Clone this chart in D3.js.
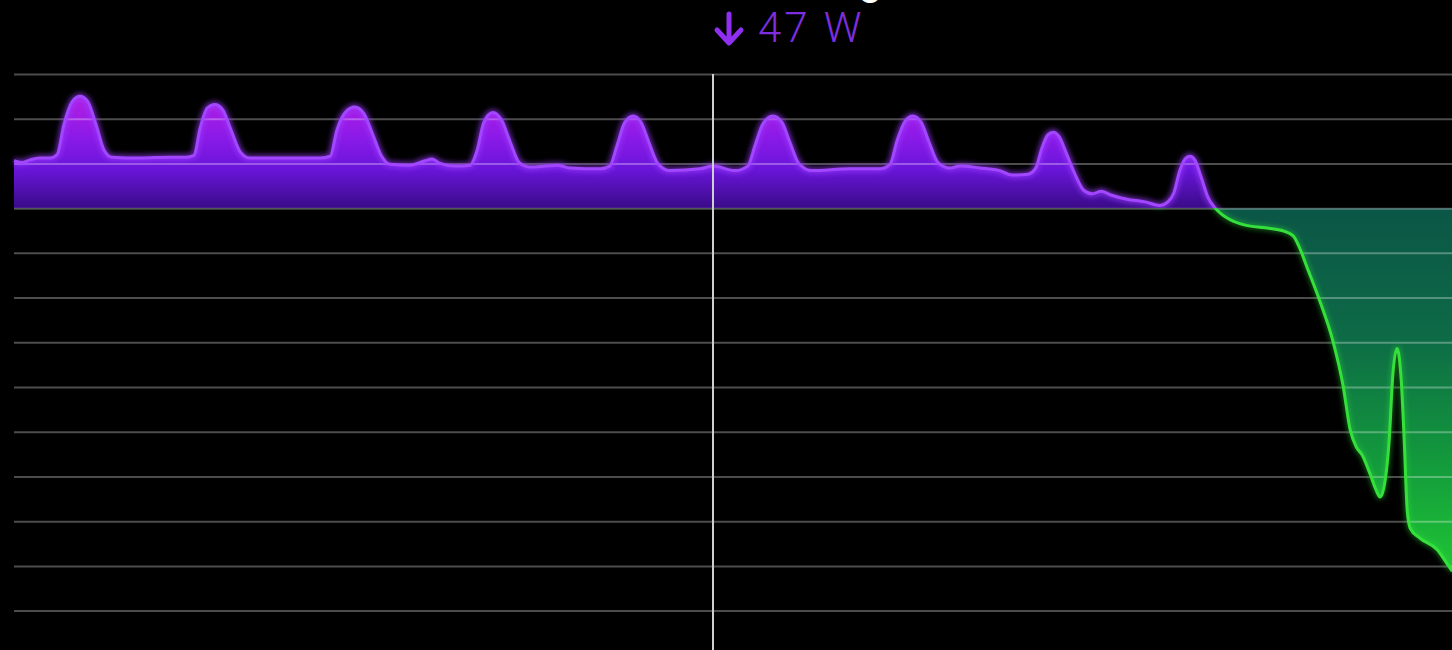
<!DOCTYPE html>
<html>
<head>
<meta charset="utf-8">
<script src="https://cdn.jsdelivr.net/npm/d3@7"></script>
<style>
  html, body { margin: 0; padding: 0; background: #000; overflow: hidden; }
  svg { display: block; }
</style>
</head>
<body>
<svg id="chart" width="1452" height="650"></svg>
<script>
// ---- data (time in minutes, power in watts; positive = drawing, negative = charging) ----
const timeMinutes = [
  0, 1.3, 2.7, 4.3, 6.0, 7.2, 8.3, 9.7, 11.0, 12.3, 13.7, 15.0, 16.3, 21.0, 26.0, 28.7,
  30.0, 31.0, 32.2, 33.5, 34.8, 36.2, 37.7, 39.3, 44.3, 51.0, 52.7, 53.8, 55.2, 56.8, 58.3,
  59.7, 61.2, 62.7, 66.0, 68.5, 69.7, 71.0, 73.5, 76.0, 77.2, 78.3, 79.8, 81.3, 82.7, 84.2,
  86.0, 88.5, 90.5, 92.7, 97.7, 99.3, 100.5, 101.8, 103.2, 104.5, 105.8, 107.3, 109.3, 114.3,
  116.5, 120.2, 122.3, 123.5, 124.8, 126.5, 128.0, 129.3, 130.8, 133.0, 139.3, 144.3, 146.0,
  147.2, 148.5, 149.8, 151.2, 152.5, 154.0, 156.0, 157.7, 161.0, 164.3, 166.3, 169.0, 170.3,
  171.3, 172.3, 173.2, 174.2, 175.3, 176.7, 178.3, 179.7, 181.2, 182.7, 185.5, 188.5, 191.0,
  192.3, 193.3, 194.3, 195.3, 196.0, 196.8, 197.8, 199.0, 200.2,
  201.3, 202.7, 205.2, 208.5, 211.3, 213.2, 214.3, 215.5, 217.7, 219.8, 221.5, 222.7, 223.7,
  224.7, 226.0, 227.0, 227.7, 228.3, 229.2, 229.8, 230.5, 231.2, 231.7, 232.2, 232.7, 234.3,
  237.2, 238.7, 239.7
];
const powerWatts = [
  53, 51, 54, 56, 56, 60, 93, 119, 125, 119, 93, 65, 57, 56, 57, 57,
  59, 89, 112, 116, 110, 87, 63, 56, 56, 56, 58, 87, 107, 113, 106,
  84, 59, 49, 48, 53, 55, 50, 47, 48, 65, 96, 107, 98, 74, 51,
  46, 47, 48, 45, 44, 47, 70, 96, 103, 96, 74, 50, 42, 44,
  47, 42, 47, 70, 94, 103, 96, 74, 50, 42, 44, 44, 49,
  76, 97, 103, 96, 74, 51, 45, 47, 45, 42, 37, 38, 45,
  67, 82, 85, 80, 63, 40, 20, 16, 19, 15, 10, 7, 3,
  7, 17, 42, 56, 58, 54, 36, 12, 0,
  -7, -13, -19, -22, -25, -31, -45, -66, -105, -148, -198, -248, -267,
  -276, -297, -315, -323, -313, -259, -187, -157, -192, -259, -338, -358, -369,
  -382, -396, -406
];
const gridWatts = [150, 100, 50, 0, -50, -100, -150, -200, -250, -300, -350, -400, -450];
const cursorMinute = 116.5;
const cursorLabel = "47 W";
const headerText = "Draining";

// ---- layout ----
const W = 1452, H = 650;
const svg = d3.select("#chart");
svg.append("rect").attr("width", W).attr("height", H).attr("fill", "#000");

const x = d3.scaleLinear().domain([0, 240]).range([14, 1454]);
const y = d3.scaleLinear().domain([150, -450]).range([74, 610.6]);

const pts = timeMinutes.map((t, i) => ({ t, v: powerWatts[i] }));
const y0 = y(0);

const defs = svg.append("defs");
const gp = defs.append("linearGradient").attr("id", "gPurple")
  .attr("gradientUnits", "userSpaceOnUse").attr("x1", 0).attr("x2", 0)
  .attr("y1", y(125)).attr("y2", y0);
[[0, "#b41fe3"], [0.35, "#8d1ae8"], [0.65, "#6a15da"], [1, "#3a0b88"]]
  .forEach(([o, c]) => gp.append("stop").attr("offset", o).attr("stop-color", c));

const gg = defs.append("linearGradient").attr("id", "gGreen")
  .attr("gradientUnits", "userSpaceOnUse").attr("x1", 0).attr("x2", 0)
  .attr("y1", y0).attr("y2", y(-406));
[[0, "#0b5646"], [0.35, "#0d6a46"], [0.7, "#139a3c"], [1, "#1fc535"]]
  .forEach(([o, c]) => gg.append("stop").attr("offset", o).attr("stop-color", c));

defs.append("clipPath").attr("id", "clipTop")
  .append("rect").attr("x", 0).attr("y", 0).attr("width", W).attr("height", y0);
defs.append("clipPath").attr("id", "clipBottom")
  .append("rect").attr("x", 0).attr("y", y0).attr("width", W).attr("height", H - y0);

const glow = defs.append("filter").attr("id", "glow")
  .attr("x", "-5%").attr("y", "-20%").attr("width", "110%").attr("height", "140%");
glow.append("feGaussianBlur").attr("stdDeviation", 2.5);

const curve = d3.curveMonotoneX;
const area = d3.area().curve(curve).x(d => x(d.t)).y0(y0).y1(d => y(d.v));
const line = d3.line().curve(curve).x(d => x(d.t)).y(d => y(d.v));

// fills
svg.append("path").datum(pts).attr("d", area)
  .attr("fill", "url(#gPurple)").attr("clip-path", "url(#clipTop)");
svg.append("path").datum(pts).attr("d", area)
  .attr("fill", "url(#gGreen)").attr("clip-path", "url(#clipBottom)");

// grid lines (on top of fills)
const gridG = svg.append("g").attr("transform", `translate(14,0)`)
  .call(d3.axisLeft(y).tickValues(gridWatts).tickSize(-(W - 14)).tickFormat(""));
gridG.select(".domain").remove();
gridG.selectAll(".tick line").attr("stroke", "rgba(255,255,255,0.3)").attr("stroke-width", 2);

// lines with glow
const topG = svg.append("g").attr("clip-path", "url(#clipTop)");
topG.append("path").datum(pts).attr("d", line).attr("fill", "none")
  .attr("stroke", "#9a3cff").attr("stroke-width", 7).attr("opacity", 0.6).attr("filter", "url(#glow)");
topG.append("path").datum(pts).attr("d", line).attr("fill", "none")
  .attr("stroke", "#a246ff").attr("stroke-width", 3);

const botG = svg.append("g").attr("clip-path", "url(#clipBottom)");
botG.append("path").datum(pts).attr("d", line).attr("fill", "none")
  .attr("stroke", "#2fdc3a").attr("stroke-width", 6).attr("opacity", 0.4).attr("filter", "url(#glow)");
botG.append("path").datum(pts).attr("d", line).attr("fill", "none")
  .attr("stroke", "#36e03c").attr("stroke-width", 3);

// cursor
const cx = Math.round(x(cursorMinute));
svg.append("line").attr("x1", cx).attr("x2", cx).attr("y1", y(150)).attr("y2", H)
  .attr("stroke", "#cfcfcf").attr("stroke-width", 2);

// header (mostly cropped off the top, as in the reference)
svg.append("text").attr("x", 882).attr("y", -5).attr("text-anchor", "end")
  .attr("font-family", "Roboto, sans-serif").attr("font-size", 40).attr("font-weight", 500)
  .attr("fill", "#fff").text(headerText);

// arrow + value label
const ax = cx + 16;
svg.append("path")
  .attr("d", `M${ax},14 L${ax},42 M${ax - 12},30 L${ax},43 L${ax + 12},30`)
  .attr("fill", "none").attr("stroke", "#8f2ff0").attr("stroke-width", 5)
  .attr("stroke-linecap", "round").attr("stroke-linejoin", "round");
svg.append("text").attr("x", 758).attr("y", 42)
  .attr("font-family", "Roboto, sans-serif").attr("font-size", 42).attr("font-weight", 300)
  .attr("letter-spacing", 3)
  .attr("fill", "#7c2ee0").text(cursorLabel);
</script>
</body>
</html>
